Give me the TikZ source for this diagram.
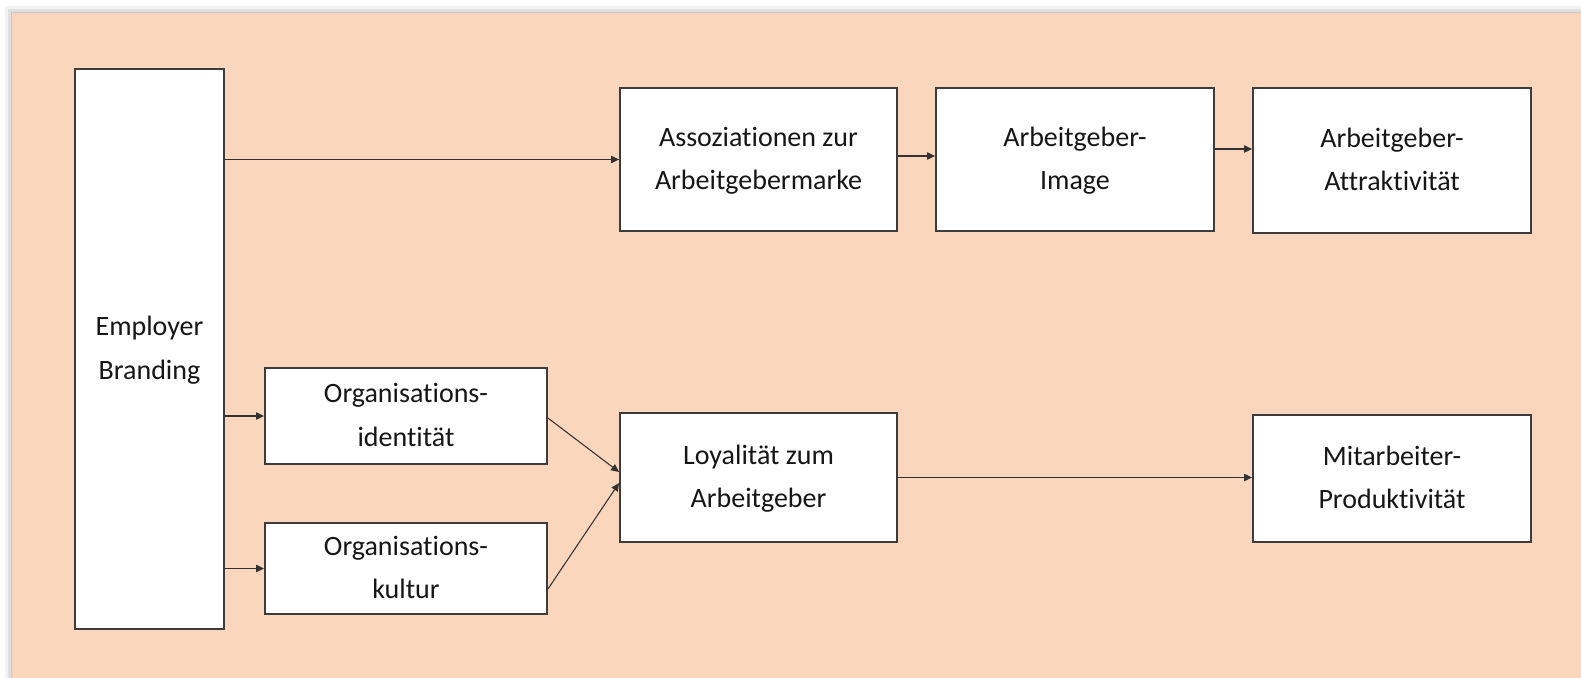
\documentclass[tikz,border=0pt]{standalone}
\usepackage{fontspec}
\setmainfont{Carlito}[Ligatures=NoCommon]
\usetikzlibrary{arrows.meta}
\definecolor{peach}{RGB}{250,214,188}
\definecolor{boxline}{RGB}{60,60,60}
\definecolor{txt}{RGB}{22,22,22}
\definecolor{arrline}{RGB}{50,50,50}
\newdimen\pxu \pxu=0.75pt
\newcommand{\twol}[2]{\raisebox{-5\pxu}{\begin{tabular}{@{}c@{}}#1\\[0.5pt]#2\end{tabular}}}
\begin{document}
\begin{tikzpicture}[x=0.75pt,y=-0.75pt,
  box/.style={draw=boxline, line width=1.4pt, fill=white, rectangle, inner sep=0pt,
    align=center, text=txt, font=\fontsize{21}{32}\selectfont},
  arr/.style={draw=arrline, line width=0.8pt, -{Triangle[length=6pt,width=5.5pt]}}]
\useasboundingbox (0,0) rectangle (1581,678);
\fill[white] (0,0) rectangle (1581,678);
\fill[black, opacity=0.05] (5,6) rectangle (1581,678);
\fill[black, opacity=0.07] (8,9) rectangle (1581,678);
\fill[black, opacity=0.10] (10.5,11.5) rectangle (1581,678);
\fill[peach] (12,13) rectangle (1581,678);

\node[box, minimum width=149\pxu, minimum height=560\pxu] (EB) at (149.5,349) {\twol{Employer}{Branding}};
\node[box, minimum width=277\pxu, minimum height=143\pxu] (AS) at (758.5,159.5) {\twol{Assoziationen zur}{Arbeitgebermarke}};
\node[box, minimum width=278\pxu, minimum height=143\pxu] (IM) at (1075,159.5) {\twol{Arbeitgeber-}{Image}};
\node[box, minimum width=278\pxu, minimum height=145\pxu] (AT) at (1392,160.5) {\twol{Arbeitgeber-}{Attraktivität}};
\node[box, minimum width=282\pxu, minimum height=96\pxu] (OI) at (406,416) {\twol{Organisations-}{identität}};
\node[box, minimum width=282\pxu, minimum height=91\pxu] (OK) at (406,568.5) {\twol{Organisations-}{kultur}};
\node[box, minimum width=277\pxu, minimum height=129\pxu] (LO) at (758.5,477.5) {\twol{Loyalität zum}{Arbeitgeber}};
\node[box, minimum width=278\pxu, minimum height=127\pxu] (MI) at (1392,478.5) {\twol{Mitarbeiter-}{Produktivität}};

\draw[arr] (EB.east |- AS.west) -- (AS.west);
\draw[arr] (AS.east |- 0,156) -- (IM.west |- 0,156);
\draw[arr] (IM.east |- 0,149) -- (AT.west |- 0,149);
\draw[arr] (EB.east |- OI.west) -- (OI.west);
\draw[arr] (EB.east |- OK.west) -- (OK.west);
\draw[arr] (OI.east |- 0,418) -- (LO.west |- 0,472);
\draw[arr] (OK.east |- 0,589) -- (LO.west |- 0,483);
\draw[arr] (LO.east) -- (MI.west |- LO.east);
\end{tikzpicture}
\end{document}
